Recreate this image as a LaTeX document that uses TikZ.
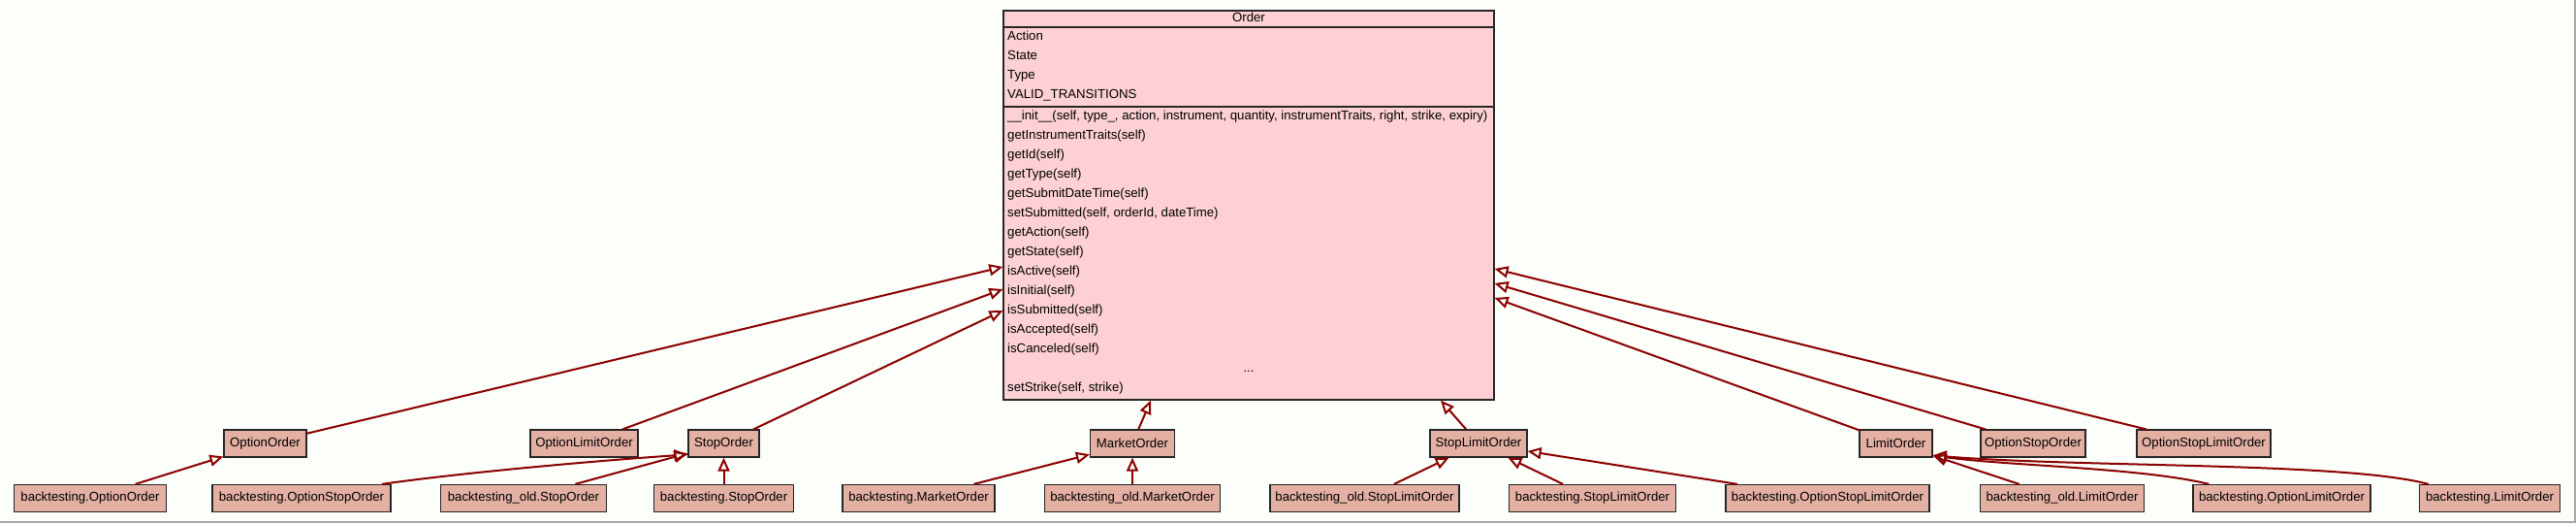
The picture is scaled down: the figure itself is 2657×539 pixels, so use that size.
\documentclass[tikz,border=0pt]{standalone}
\usepackage{fontspec}
\setmainfont{Liberation Sans}
\usetikzlibrary{arrows.meta}
\definecolor{bgcol}{HTML}{FCFEFA}
\definecolor{ordcol}{HTML}{FDD1D4}
\definecolor{subcol}{HTML}{E4B0A4}
\definecolor{edgecol}{HTML}{8B0000}
\definecolor{framecol}{HTML}{A8A8A8}
\tikzset{
	cls/.style={draw=black!85,line width=1.2pt,fill=subcol,minimum height=28pt,inner sep=0pt,font=\fontsize{13.2}{15}\selectfont},
	ordbox/.style={draw=black!85,line width=1.2pt,fill=ordcol,minimum width=506pt,minimum height=401pt,inner sep=0pt},
	member/.style={anchor=west,inner sep=0pt,text height=9pt,text depth=3pt,font=\fontsize{13.2}{15}\selectfont},
	sep/.style={draw=black!85,line width=1.2pt},
	inh/.style={draw=edgecol,line width=2pt,-{Triangle[open,length=14pt,width=12pt]}}
}
\begin{document}
\begin{tikzpicture}[x=1pt,y=-1pt]
			
			\useasboundingbox (0,0) rectangle (2657,539);
			\fill[bgcol] (0,0) rectangle (2657,539);
			\draw[framecol,line width=1.5pt] (0,537.8) -- (2655.8,537.8) -- (2655.8,0);
			
			\node[ordbox] (Ord) at (1288,211.5) {};
			\node[member,anchor=center] (OrdT) at (1288,19.5) {Order};
			\draw[sep] (Ord.west |- 0,28) -- (Ord.east |- 0,28);
			\draw[sep] (Ord.west |- 0,110) -- (Ord.east |- 0,110);
			
			\node[member] (A1) at (1039,38) {Action};
			\node[member] (A2) at (1039,58) {State};
			\node[member] (A3) at (1039,78) {Type};
			\node[member] (A4) at (1039,98) {VALID\_TRANSITIONS};
			
			\node[member] (M1) at (1039,120) {\_\_init\_\_(self, type\_, action, instrument, quantity, instrumentTraits, right, strike, expiry)};
			\node[member] (M2) at (1039,140) {getInstrumentTraits(self)};
			\node[member] (M3) at (1039,160) {getId(self)};
			\node[member] (M4) at (1039,180) {getType(self)};
			\node[member] (M5) at (1039,200) {getSubmitDateTime(self)};
			\node[member] (M6) at (1039,220) {setSubmitted(self, orderId, dateTime)};
			\node[member] (M7) at (1039,240) {getAction(self)};
			\node[member] (M8) at (1039,260) {getState(self)};
			\node[member] (M9) at (1039,280) {isActive(self)};
			\node[member] (M10) at (1039,300) {isInitial(self)};
			\node[member] (M11) at (1039,320) {isSubmitted(self)};
			\node[member] (M12) at (1039,340) {isAccepted(self)};
			\node[member] (M13) at (1039,360) {isCanceled(self)};
			\node[member,anchor=center] (M14) at (1288,380) {...};
			\node[member] (M15) at (1039,400) {setStrike(self, strike)};
			
			\node[cls,minimum width=85pt] (OO) at (273.5,457) {OptionOrder};
			\node[cls,minimum width=111pt] (OLO) at (602.5,457) {OptionLimitOrder};
			\node[cls,minimum width=73pt] (SO) at (746.5,457) {StopOrder};
			\node[cls,minimum width=87pt] (MO) at (1168,457) {MarketOrder};
			\node[cls,minimum width=100pt] (SLO) at (1525,457) {StopLimitOrder};
			\node[cls,minimum width=75pt] (LO) at (1955.5,457) {LimitOrder};
			\node[cls,minimum width=108pt] (OSO) at (2097,457) {OptionStopOrder};
			\node[cls,minimum width=138pt] (OSLO) at (2273,457) {OptionStopLimitOrder};
			
			\node[cls,minimum width=157pt] (bOO) at (93,513.5) {backtesting.OptionOrder};
			\node[cls,minimum width=184pt] (bOSO) at (311,513.5) {backtesting.OptionStopOrder};
			\node[cls,minimum width=171pt] (oSO) at (540,513.5) {backtesting\_old.StopOrder};
			\node[cls,minimum width=144pt] (bSO) at (746.5,513.5) {backtesting.StopOrder};
			\node[cls,minimum width=157pt] (bMO) at (947.5,513.5) {backtesting.MarketOrder};
			\node[cls,minimum width=181pt] (oMO) at (1168,513.5) {backtesting\_old.MarketOrder};
			\node[cls,minimum width=195pt] (oSLO) at (1407.5,513.5) {backtesting\_old.StopLimitOrder};
			\node[cls,minimum width=172pt] (bSLO) at (1642.5,513.5) {backtesting.StopLimitOrder};
			\node[cls,minimum width=210pt] (bOSLO) at (1885,513.5) {backtesting.OptionStopLimitOrder};
			\node[cls,minimum width=169pt] (oLO) at (2127,513.5) {backtesting\_old.LimitOrder};
			\node[cls,minimum width=183pt] (bOLO) at (2353.5,513.5) {backtesting.OptionLimitOrder};
			\node[cls,minimum width=145pt] (bLO) at (2568,513.5) {backtesting.LimitOrder};
			
			\draw[inh] (OO) -- (Ord.west |- 0,275);
			\draw[inh] (OLO) -- (Ord.west |- 0,298);
			\draw[inh] (SO) -- (Ord.west |- 0,320);
			\draw[inh] (MO) -- (1187,0 |- Ord.south);
			\draw[inh] (SLO) -- (1486,0 |- Ord.south);
			\draw[inh] (LO) -- (Ord.east |- 0,307);
			\draw[inh] (OSO) -- (Ord.east |- 0,292);
			\draw[inh] (OSLO) -- (Ord.east |- 0,277);
			
			\draw[inh] (bOO) -- (OO);
			\draw[inh] (bOSO.10) .. controls (470,488) and (600,476) .. (SO.197);
			\draw[inh] (oSO) -- (SO);
			\draw[inh] (bSO) -- (SO);
			\draw[inh] (bMO) -- (MO);
			\draw[inh] (oMO) -- (MO);
			\draw[inh] (oSLO) -- (SLO);
			\draw[inh] (bSLO) -- (SLO);
			\draw[inh] (bOSLO) -- (SLO);
			\draw[inh] (oLO) -- (LO);
			\draw[inh] (bOLO.169.5) .. controls (2210,482) and (2070,480) .. (LO.-18);
			\draw[inh] (bLO.167) .. controls (2420,476) and (2150,482) .. (LO.-18);
			
		\end{tikzpicture}
\end{document}
